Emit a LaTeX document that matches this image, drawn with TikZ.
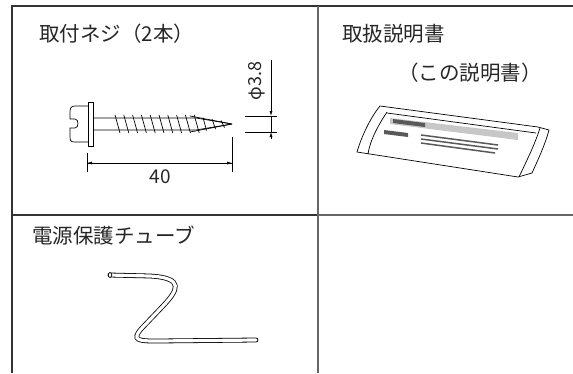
\documentclass[tikz,border=0pt]{standalone}
\usepackage{fontspec}
\setmainfont{Noto Sans CJK JP}
\usetikzlibrary{arrows.meta}
\begin{document}
\begin{tikzpicture}[x=1pt,y=-1pt, line width=.7pt,
 lbl/.style={font=\fontsize{20.5}{24}\selectfont, text=black!85, anchor=base west, inner sep=0pt},
 ar/.style={-{Latex[length=5pt,width=3pt]}}, tube/.style={line width=.8pt, double=white, double distance=3.2pt, line cap=round}]
\useasboundingbox (0,0) rectangle (573,373);
% frame
\draw[line width=1.6pt, black!80] (12,373) -- (12,6) -- (573,6) (12,215) -- (318,215);
\draw[line width=1.6pt, black!60] (318,6) -- (318,373) (318,215) -- (573,215);
% titles
\path (39,41) node[lbl] (t1) {取付ネジ（2本）}
 (342,41) node[lbl] (t2) {取扱説明書}
 (398,80) node[lbl] (t3) {（この説明書）}
 (32,243) node[lbl] (t4) {電源保護チューブ};
% screw
\draw (88,102) rectangle (93,146);
\draw (88,106) -- (75,106) .. controls (71,106) and (70,108) .. (70,112) -- (70,119) -- (75,119)
 .. controls (79,119) and (79,128) .. (75,128) -- (70,128) -- (70,137) .. controls (70,141) and (71,142) .. (75,142) -- (88,142);
\coordinate (tip) at (232,124);
\draw (93,118) -- (196,118) -- (tip) (93,130) -- (196,130) -- (tip);
\draw (190,116) -- (tip) (190,132) -- (tip);
\foreach \i in {0,...,9} \draw (115+8.8*\i,115) -- ++(5,18);
\foreach \x/\h in {203/6.5, 212/5, 221/3.5} \draw (\x,124-\h) -- (\x+3.5,124+\h);
% 40
\coordinate (a) at (87,163); \coordinate (b) at (232,163);
\draw[line width=.6pt] (87,153) -- (87,172) (232,137) -- (232,172);
\draw[line width=.6pt, ar] (b) -- (a); \draw[line width=.6pt, ar] (a) -- (b);
\node[font=\fontsize{19}{22}\selectfont, text=black!85] (d1) at (160,177) {40};
% diameter
\coordinate (c) at (271,116); \coordinate (d) at (271,132);
\draw[line width=.6pt] (245,116) -- (277,116) (245,132) -- (277,132) (c) -- (d);
\draw[line width=.6pt, ar] (271,60) -- (c); \draw[line width=.6pt, ar] (271,139) -- (d);
\node[font=\fontsize{18}{22}\selectfont, text=black!85, rotate=90] (d2) at (257,81) {φ3.8};
% booklet
\draw[fill=white] (380,106) -- (538,127) -- (549,130) .. controls (545,145) and (537,162) .. (532,173) -- (518,177)
 -- (357,152) .. controls (361,138) and (370,118) .. (380,106) -- cycle;
\draw (387,112) .. controls (379,124) and (370,140) .. (368,154);
\draw (540,128) .. controls (535,144) and (527,160) .. (519,177);
\draw (387,113) -- (536,133);
\fill[black!22] (390,118) -- (518,133) -- (518,140) -- (390,124) -- cycle;
\fill[black!65] (393,119) -- (425,123) -- (425,127) -- (393,123) -- cycle;
\fill[black!65] (384,130) -- (408,133) -- (408,137) -- (384,134) -- cycle;
\foreach \dy/\l in {0/77, 4/77, 8/74} \draw[line width=1.5pt, black!65] (421,135+\dy) -- ++(\l,10);
% tube
\draw[tube] (110,275) -- (150,276) .. controls (185,278) and (178,290) .. (163,306) -- (142,328)
 .. controls (130,341) and (140,341) .. (158,341) -- (256,340);
\draw[fill=white] (110,275) ellipse (1.8 and 2.4);
\end{tikzpicture}
\end{document}
